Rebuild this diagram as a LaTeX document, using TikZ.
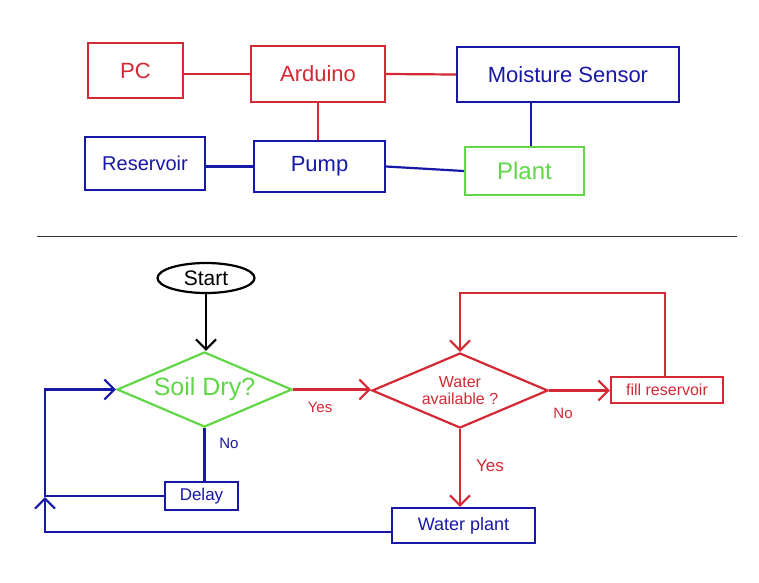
\documentclass[tikz,border=0pt]{standalone}
\usepackage{fontspec}
\setmainfont{Liberation Sans}
\usetikzlibrary{shapes.geometric,arrows.meta}
\definecolor{hred}{RGB}{212,40,52}
\definecolor{hblue}{RGB}{24,24,168}
\definecolor{hgreen}{RGB}{96,214,72}
\tikzset{
  box/.style={draw, line width=2.2pt, rectangle, inner sep=0pt},
  dia/.style={draw, line width=2.2pt, diamond, inner sep=0pt, align=center, shape aspect=2.34},
  wire/.style={line width=2.2pt},
  arr/.style={line width=2.2pt, -{Straight Barb[length=10pt,width=20pt,line width=2.2pt]}},
  lbl/.style={font=\fontsize{15}{17}\selectfont}
}
\begin{document}
\begin{tikzpicture}[x=1pt,y=-1pt]
\useasboundingbox (0,0) rectangle (759,582);
\fill[white] (0,0) rectangle (759,582);
% top block diagram
\begin{scope}[font=\fontsize{22}{24}\selectfont]
\node[box, hred, minimum width=95pt, minimum height=55pt] (pc) at (135.5,70.5) {PC};
\node[box, hred, minimum width=134pt, minimum height=56pt] (ard) at (318,74) {Arduino};
\node[box, hblue, minimum width=222pt, minimum height=55pt] (ms) at (568,74.5) {Moisture Sensor};
\node[box, hblue, minimum width=120pt, minimum height=53pt, font=\fontsize{20}{22}\selectfont] (res) at (145,163.5) {Reservoir};
\node[box, hblue, minimum width=131pt, minimum height=51pt] (pump) at (319.5,166.5) {Pump};
\node[box, hgreen, minimum width=119pt, minimum height=48pt, font=\fontsize{24}{26}\selectfont] (plant) at (524.5,171) {Plant};
\end{scope}
\draw[wire, hred] (ard.west) -- (ard.west -| pc.east);
\draw[wire, hred] (ard.east) -- (ms.west);
\draw[wire, hred] (ard.south) -- (ard.south |- pump.north);
\draw[wire, hblue] ([xshift=6.5pt]plant.north) -- ([xshift=6.5pt]plant.north |- ms.south);
\draw[wire, hblue] (pump.west) -- (pump.west -| res.east);
\draw[wire, hblue] (pump.east) -- (plant.west);
% divider
\draw[line width=1pt, black!80] (37,236) -- (737,236);
% flowchart
\node[draw, ellipse, line width=2.2pt, minimum width=97pt, minimum height=30pt, inner sep=0pt, font=\fontsize{21}{23}\selectfont] (start) at (206,278) {Start};
\node[dia, hgreen, minimum width=175pt, minimum height=75pt, font=\fontsize{25}{27}\selectfont] (soil) at (204.5,389.5) {Soil Dry?};
\node[dia, hred, minimum width=176pt, minimum height=75pt, font=\fontsize{16}{17}\selectfont] (wat) at (460,390.5) {Water\\available ?};
\node[box, hred, minimum width=112pt, minimum height=26pt, font=\fontsize{16}{18}\selectfont] (fill) at (667,390) {fill reservoir};
\node[box, hblue, minimum width=73pt, minimum height=28pt, font=\fontsize{17}{19}\selectfont] (delay) at (201.5,496) {Delay};
\node[box, hblue, minimum width=143pt, minimum height=35pt, font=\fontsize{18}{20}\selectfont] (wp) at (463.5,525.5) {Water plant};
\coordinate (lt) at (45,389.5);
\coordinate (lj) at (45,497);
\coordinate (ftop) at (665,293);
\draw[arr, black] (start.south) -- (start.south |- soil.north);
\draw[arr, hred] (soil.east) -- (soil.east -| wat.west);
\draw[wire, hblue] (soil.south) -- (soil.south |- delay.north);
\draw[arr, hblue] (delay.west) -| (lt) -- (soil.west);
\draw[arr, hblue] ([yshift=-6.5pt]wp.west) -| (lj);
\draw[arr, hred] (wat.east) -- (wat.east -| fill.west);
\draw[arr, hred] (fill.north -| ftop) -- (ftop) -| (wat.north);
\draw[arr, hred] (wat.south) -- (wat.south |- wp.north);
\node[lbl, hred] (y1) at (320,407) {Yes};
\node[lbl, hblue] (n1) at (229,443) {No};
\node[lbl, hred] (n2) at (563,413) {No};
\node[lbl, hred, font=\fontsize{17}{19}\selectfont] (y2) at (490,466) {Yes};
\end{tikzpicture}
\end{document}
